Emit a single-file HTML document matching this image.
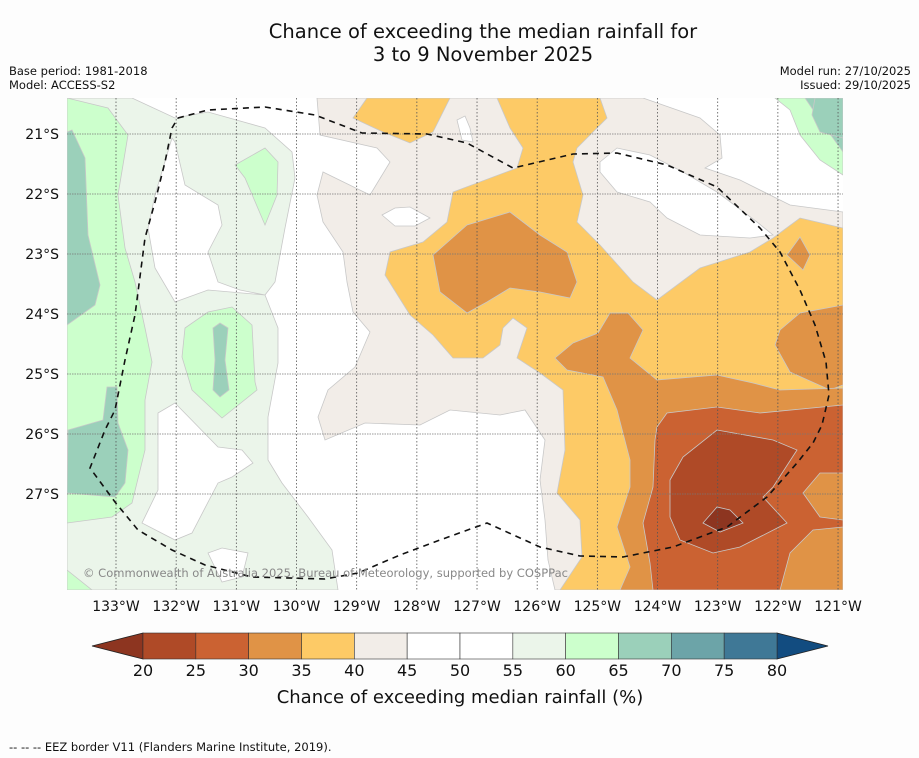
<!DOCTYPE html>
<html><head><meta charset="utf-8">
<style>
body{margin:0;background:#fdfdfd;font-family:"Liberation Sans","DejaVu Sans",sans-serif;}
#wrap{position:relative;width:919px;height:758px;overflow:hidden;background:#fdfdfd;}
</style></head>
<body>
<div id="wrap">
<svg id="svg" width="919" height="758" viewBox="0 0 919 758" xmlns="http://www.w3.org/2000/svg" font-family="'DejaVu Sans','Liberation Sans',sans-serif">
<text x="483" y="38" font-size="19.5" text-anchor="middle" fill="#111">Chance of exceeding the median rainfall for</text>
<text x="483" y="61" font-size="19.5" text-anchor="middle" fill="#111">3 to 9 November 2025</text>
<text x="9" y="75" font-size="11.5" fill="#111">Base period: 1981-2018</text>
<text x="9" y="89" font-size="11.5" fill="#111">Model: ACCESS-S2</text>
<text x="911" y="75" font-size="11.5" text-anchor="end" fill="#111">Model run: 27/10/2025</text>
<text x="911" y="89" font-size="11.5" text-anchor="end" fill="#111">Issued: 29/10/2025</text>
<defs><clipPath id="mapclip"><rect x="67" y="98" width="776" height="492"/></clipPath></defs>
<g id="map" clip-path="url(#mapclip)"></g>
<g id="axes"></g>
<g id="cbar"></g>
<text x="460" y="703" font-size="18" text-anchor="middle" fill="#111">Chance of exceeding median rainfall (%)</text>
<text x="9" y="751" font-size="11.5" fill="#111">--  --  -- EEZ border V11 (Flanders Marine Institute, 2019).</text>
</svg>
</div>
<script>
// Colorbar data
const levels = [20,25,30,35,40,45,50,55,60,65,70,75,80];
const binColors = ["#af4a27","#cb6232","#e09346","#fdca66","#f2ede8","#ffffff","#ffffff","#ebf5ea","#ccffcc","#9bd0ba","#6ca4a8","#3f7896"];
const underColor = "#8d3520";
const overColor = "#124c80";
// Axis tick data
const lonTicks = [133,132,131,130,129,128,127,126,125,124,123,122,121];
const latTicks = [21,22,23,24,25,26,27];

const NS="http://www.w3.org/2000/svg";
function mk(tag,attrs,parent){const e=document.createElementNS(NS,tag);for(const k in attrs)e.setAttribute(k,attrs[k]);parent.appendChild(e);return e;}
function xLon(w){return 116+(133-w)*60.17;}
function yLat(s){return 134+(s-21)*60;}
function xLev(v){return 143+(v-20)*(634/60);}

const regLightGreen=[[67,98],[132,98],[175,118],[208,112],[265,128],[292,152],[295,178],[285,228],[275,282],[265,295],[278,328],[278,363],[268,417],[268,460],[282,483],[308,517],[332,550],[338,590],[67,590]];
const holesWhite=[
[[172,138],[175,142],[185,185],[218,205],[222,225],[208,252],[218,282],[240,290],[265,295],[208,290],[175,302],[155,268],[148,228],[155,195]],
[[175,403],[218,447],[242,450],[253,463],[232,477],[218,483],[192,533],[175,540],[142,523],[158,490],[158,413]],
[[208,553],[222,548],[248,553],[242,577],[222,582]]];
const regGreen=[
[[67,98],[108,108],[128,135],[118,195],[125,248],[135,282],[145,328],[152,362],[145,400],[145,450],[132,503],[112,517],[67,523]],
[[67,570],[92,590],[67,590]],
[[235,165],[265,148],[278,162],[277,195],[265,225],[245,178]],
[[185,328],[208,312],[232,307],[252,325],[255,382],[257,390],[222,418],[192,390],[182,357]],
[[775,98],[843,98],[843,175],[820,160],[800,135],[790,110]]];
const regGreen2=[[[805,98],[843,98],[843,152],[820,120]]];
const regTeal=[
[[67,132],[72,130],[85,158],[88,235],[100,285],[95,305],[67,325]],
[[107,387],[117,387],[118,423],[128,450],[125,483],[115,497],[67,493],[68,430],[103,420]],
[[213,328],[220,323],[228,328],[225,360],[229,390],[220,397],[213,390],[215,360]],
[[815,98],[843,98],[843,138],[820,132],[812,115]]];
const regBeige=[[317,98],[643,98],[700,118],[720,135],[722,158],[705,168],[740,180],[790,205],[843,212],[843,590],[555,590],[548,560],[545,520],[540,480],[545,440],[525,410],[500,415],[450,410],[420,425],[365,423],[325,440],[318,417],[328,390],[355,367],[370,332],[353,312],[347,282],[343,252],[323,222],[317,195],[323,172],[370,195],[390,162],[377,148],[320,135]];
const beigeHoles=[
[[600,162],[617,148],[650,155],[683,172],[717,192],[757,222],[773,235],[750,238],[700,235],[667,218],[650,202],[617,192],[600,172]],
[[457,120],[465,116],[470,128],[473,142],[462,140]],
[[382,215],[395,208],[410,207],[430,218],[415,226],[395,226]]];
const regYellow=[
[[497,98],[600,98],[607,118],[577,148],[573,162],[583,195],[577,222],[600,245],[633,282],[657,300],[700,268],[750,252],[773,238],[800,218],[843,228],[843,590],[560,590],[582,557],[580,520],[557,493],[565,450],[563,390],[540,373],[517,358],[527,328],[513,318],[503,328],[500,345],[483,358],[453,358],[433,335],[410,315],[385,275],[390,252],[423,242],[447,222],[453,192],[517,168],[523,148],[510,128]],
[[353,118],[367,98],[450,98],[433,132],[410,143],[383,132]]];
const regOrange=[
[[433,255],[467,225],[510,212],[540,235],[567,252],[577,282],[570,298],[540,292],[510,288],[487,302],[467,313],[440,292]],
[[787,255],[800,237],[810,255],[803,270]],
[[780,330],[800,313],[843,305],[843,385],[830,390],[790,372],[775,345]],
[[555,358],[573,343],[598,333],[610,313],[628,313],[643,330],[630,358],[657,380],[717,375],[753,383],[780,390],[843,388],[843,590],[620,590],[630,567],[617,527],[630,487],[630,460],[617,410],[603,377],[567,370]]];
const regRed=[[[655,440],[657,427],[667,413],[717,407],[760,413],[843,405],[843,473],[820,473],[803,493],[820,517],[843,520],[843,527],[813,530],[790,553],[780,590],[653,590],[650,563],[643,523],[653,487]]];
const regDark=[[[670,480],[683,457],[717,430],[773,440],[797,450],[773,487],[763,497],[787,523],[740,547],[713,553],[680,540],[670,517]]];
const regDarkest=[[[703,523],[717,507],[730,510],[743,523],[720,532]]];
const eez=[[178,118],[208,110],[265,107],[315,115],[362,133],[427,134],[467,143],[513,168],[573,154],[617,153],[667,165],[717,187],[760,228],[780,252],[800,290],[815,325],[826,362],[829,395],[822,425],[813,443],[797,463],[767,497],[727,527],[673,547],[623,557],[580,556],[540,547],[487,523],[440,540],[400,555],[358,573],[325,579],[252,577],[205,565],[172,550],[138,530],[115,502],[90,468],[105,430],[115,410],[125,360],[135,315],[145,238],[155,202],[165,162],[172,128],[178,118]];

const map=document.getElementById('map');
let bg=mk('rect',{x:67,y:98,width:776,height:492,fill:'#ffffff'},map);


function poly(pts,fill,name){const p=mk('polygon',{points:pts.map(q=>q.join(',')).join(' '),fill:fill,stroke:'#c8c8c8','stroke-width':0.8},map);

}
poly(regLightGreen,binColors[7],'band-55-60');
holesWhite.forEach(h=>poly(h,'#ffffff','band-45-55'));
regGreen.forEach(h=>poly(h,binColors[8],'band-60-65'));
regGreen2.forEach(h=>poly(h,binColors[9],'band-65-70'));
regTeal.forEach(h=>poly(h,binColors[9],'band-65-70'));
poly(regBeige,binColors[4],'band-40-45');
beigeHoles.forEach(h=>poly(h,'#ffffff','band-45-55'));
regYellow.forEach(h=>poly(h,binColors[3],'band-35-40'));
regOrange.forEach(h=>poly(h,binColors[2],'band-30-35'));
regRed.forEach(h=>poly(h,binColors[1],'band-25-30'));
regDark.forEach(h=>poly(h,binColors[0],'band-20-25'));
regDarkest.forEach(h=>poly(h,underColor,'band-below-20'));

const axes=document.getElementById('axes');
lonTicks.forEach(w=>{const x=xLon(w);
 const l=mk('line',{x1:x,y1:98,x2:x,y2:590,stroke:'#555','stroke-width':0.8,'stroke-dasharray':'1.5,2'},map);
 
 
 const t=mk('text',{x:x,y:611,'font-size':14,'text-anchor':'middle',fill:'#111'},axes);t.textContent=w+'°W';
 
 });
latTicks.forEach(s=>{const y=yLat(s);
 const l=mk('line',{x1:67,y1:y,x2:843,y2:y,stroke:'#777','stroke-width':0.8,'stroke-dasharray':'1.5,1'},map);
 
 
 const t=mk('text',{x:59,y:y+5,'font-size':14,'text-anchor':'end',fill:'#111'},axes);t.textContent=s+'°S';
 
 });
const ez=mk('polyline',{points:eez.map(q=>q.join(',')).join(' '),fill:'none',stroke:'#111','stroke-width':1.6,'stroke-dasharray':'6,5'},map);


const cp=mk('text',{x:83,y:577,'font-size':11.5,fill:'#888',textLength:485,lengthAdjust:'spacingAndGlyphs'},map);cp.textContent='© Commonwealth of Australia 2025, Bureau of Meteorology, supported by COSPPac';



const cb=document.getElementById('cbar');
const cTop=633,cBot=659,cMid=646;
let tl=mk('polygon',{points:`92,${cMid} ${xLev(20)},${cTop} ${xLev(20)},${cBot}`,fill:underColor,stroke:'#222','stroke-width':0.8},cb);


let tr=mk('polygon',{points:`828,${cMid} ${xLev(80)},${cTop} ${xLev(80)},${cBot}`,fill:overColor,stroke:'#222','stroke-width':0.8},cb);


for(let i=0;i<binColors.length;i++){
 const r=mk('rect',{x:xLev(levels[i]),y:cTop,width:xLev(levels[i+1])-xLev(levels[i]),height:cBot-cTop,fill:binColors[i],stroke:'#333','stroke-width':0.6},cb);
 
 
}
levels.forEach(v=>{const t=mk('text',{x:xLev(v),y:676,'font-size':16,'text-anchor':'middle',fill:'#111'},cb);t.textContent=v;
 
 });
</script>
</body></html>
